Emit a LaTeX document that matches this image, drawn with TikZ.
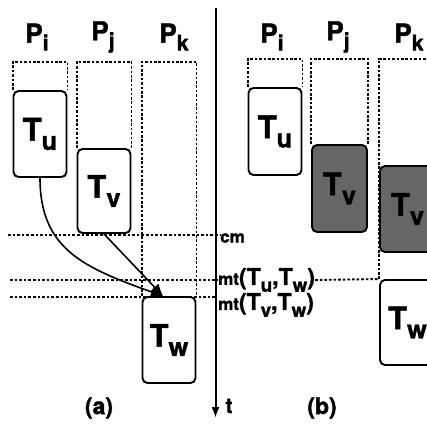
\documentclass[tikz,border=0pt]{standalone}
\usepackage{fontspec}
\usepackage{graphicx}
\setmainfont{TeX Gyre Heros}[BoldFeatures={FakeBold=1.5}]
\usetikzlibrary{arrows.meta,calc}
\newcommand\sbs[1]{\raisebox{-0.3em}{\scalebox{0.82}{#1}}}
\newcommand\bigT[1]{{\fontsize{23}{23}\selectfont #1}}
\tikzset{
  taskbox/.style={draw, line width=1.9pt, rounded corners=5pt, minimum width=53pt, inner sep=0pt,
    font=\fontsize{31}{31}\selectfont\bfseries},
  shadebox/.style={taskbox, fill=black!60},
  colline/.style={line width=1.9pt, dash pattern=on 2.6pt off 1.8pt},
  hline/.style={line width=1.9pt, dash pattern=on 2.6pt off 2pt},
  plabel/.style={font=\fontsize{26}{26}\selectfont\bfseries, inner sep=0pt},
  tlabel/.style={font=\fontsize{17}{17}\selectfont\bfseries, inner sep=0pt, anchor=west},
  caption/.style={font=\fontsize{23}{23}\selectfont\bfseries, inner sep=0pt},
  arr/.style={line width=1.6pt, -{Latex[length=12pt,width=11pt]}},
}
\begin{document}
\begin{tikzpicture}[x=1pt,y=-1pt]
\useasboundingbox (0,0) rectangle (427,433);
\clip (0,0) rectangle (427,433);
% ---------- (a) ----------
\node[plabel] (pia) at (37,37) {P\sbs{i}};
\node[plabel] (pja) at (103,37) {P\sbs{j}};
\node[plabel] (pka) at (174,37) {P\sbs{k}};
\node[taskbox, minimum height=86pt] (tu) at (40,134) {T\sbs{u}};
\node[taskbox, minimum height=84pt] (tv) at (104,191) {T\sbs{v}};
\node[taskbox, minimum height=86pt] (tw) at (169,340) {T\sbs{w}};
\draw[colline] (tu.north west) -- (tu.north west |- 0,62) -- (tu.north east |- 0,62) -- (tu.north east);
\draw[colline] (tv.north west) -- (tv.north west |- 0,62) -- (tv.north east |- 0,62) -- (tv.north east);
\draw[colline] (tw.north west) -- (tw.north west |- 0,62) -- (tw.north east |- 0,62) -- (tw.north east);
% time axis
\coordinate (axtop) at (215.5,8);
\coordinate (axbot) at (215.5,418);
\draw[line width=2pt, -{Latex[length=11pt,width=8pt]}] (axtop) -- (axbot);
\node[font=\fontsize{21}{21}\selectfont\bfseries, inner sep=0pt] (tlab) at (229,406) {t};
% horizontal lines and labels
\node[tlabel] (cm) at (220,238) {cm};
\node[tlabel] (mtu) at (218,280) {mt\bigT{(T\sbs{u},T\sbs{w})}};
\node[tlabel] (mtv) at (218,305) {mt\bigT{(T\sbs{v},T\sbs{w})}};
\coordinate (cmL) at (8,235);
\coordinate (muL) at (10,280);
\coordinate (mvL) at (10,297);
\draw[hline] (cmL) -- (cm.west |- cmL);
\draw[hline] (muL) -- (mtu.west |- muL);
\draw[hline] (mvL) -- (axbot |- mvL);
% arrows
\draw[arr] (tu.south) .. controls (40,250) and (85,268) .. ([xshift=-6]tw.north);
\draw[arr] (tv.south) -- ([xshift=-6]tw.north);
\node[caption] (capa) at (99,408) {(a)};
% ---------- (b) ----------
\node[plabel] (pib) at (272,37) {P\sbs{i}};
\node[plabel] (pjb) at (338,37) {P\sbs{j}};
\node[plabel] (pkb) at (409,37) {P\sbs{k}};
\node[taskbox, minimum height=87pt] (tub) at (275,131.5) {T\sbs{u}};
\node[shadebox, minimum height=87pt, minimum width=55pt] (tvj) at (339.5,188.5) {T\sbs{v}};
\node[taskbox, minimum height=85pt, minimum width=55pt] (twb) at (407.5,322.5) {T\sbs{w}};
\draw[colline] (tub.north west) -- (tub.north west |- 0,59) -- (tub.north east |- 0,59) -- (tub.north east);
\draw[colline] (tvj.north west) -- (tvj.north west |- 0,59) -- (tvj.north east |- 0,59) -- (tvj.north east);
\draw[colline] (twb.north west) -- (twb.north west |- 0,59) -- (twb.north east |- 0,59) -- (twb.north east);
\node[shadebox, minimum height=86pt, minimum width=55pt] (tvk) at (407.5,209) {T\sbs{v}};
\draw[hline] (mtu.east) -- (twb.north west);
\node[caption] (capb) at (322,408) {(b)};
\end{tikzpicture}
\end{document}
